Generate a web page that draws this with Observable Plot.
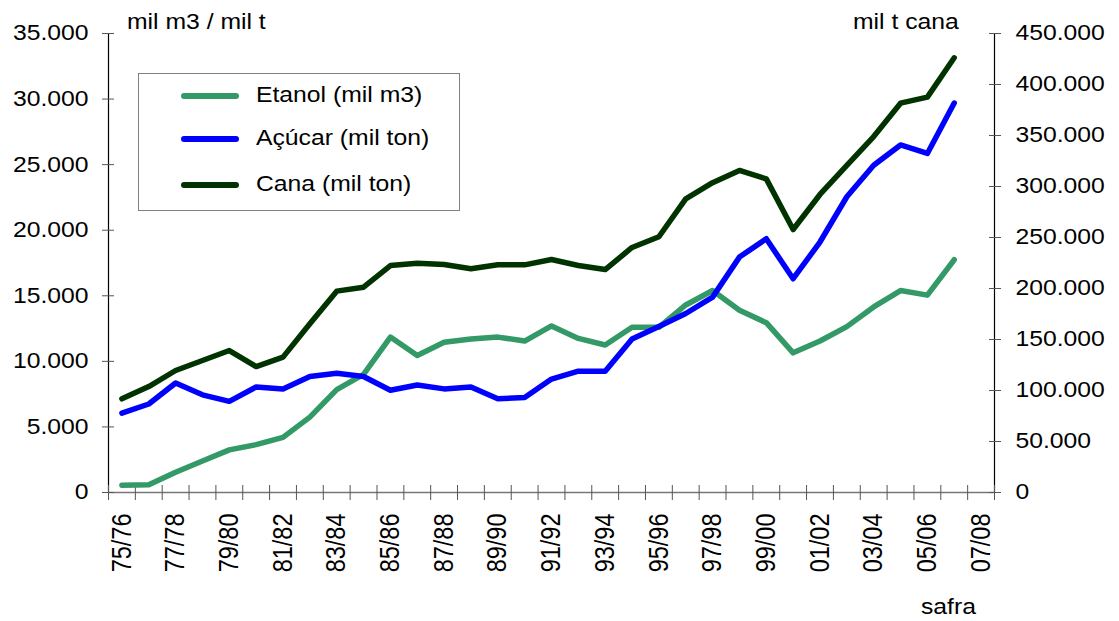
<!DOCTYPE html>
<html>
<head>
<meta charset="utf-8">
<script src="https://cdn.jsdelivr.net/npm/d3@7"></script>
<script src="https://cdn.jsdelivr.net/npm/@observablehq/plot@0.6"></script>
<style>
  html, body { margin: 0; padding: 0; background: #fff; }
  #wrap { position: relative; width: 1119px; height: 621px; font-family: "Liberation Sans", Arial, sans-serif; color: #000; }
  .ov { position: absolute; font-size: 21.5px; line-height: 1; white-space: nowrap; transform: scaleX(1.15); transform-origin: 0 0; }
  #legend { position: absolute; left: 138px; top: 73px; width: 320px; height: 136px; border: 1px solid #808080; background: #fff; }
  .lg-line { position: absolute; left: 42px; width: 58px; height: 6px; border-radius: 3px; }
  .lg-text { position: absolute; left: 117px; font-size: 21.5px; line-height: 1; white-space: nowrap; transform: scaleX(1.15); transform-origin: 0 0; }
</style>
</head>
<body>
<div id="wrap"></div>
<script>
// ---- data ----
const categories = ["75/76","76/77","77/78","78/79","79/80","80/81","81/82","82/83","83/84","84/85",
  "85/86","86/87","87/88","88/89","89/90","90/91","91/92","92/93","93/94","94/95",
  "95/96","96/97","97/98","98/99","99/00","00/01","01/02","02/03","03/04","04/05",
  "05/06","06/07","07/08"];
const etanol = [555, 600, 1550, 2400, 3250, 3650, 4200, 5750, 7850, 9000,
  11850, 10450, 11450, 11700, 11850, 11550, 12700, 11750, 11250, 12600,
  12600, 14300, 15400, 13900, 12950, 10650, 11550, 12650, 14150, 15400,
  15050, 17750];
const acucar = [6050, 6750, 8350, 7450, 6950, 8050, 7900, 8850, 9100, 8850,
  7800, 8200, 7900, 8050, 7150, 7250, 8650, 9250, 9250, 11700,
  12650, 13650, 14900, 17950, 19350, 16300, 19100, 22550, 24950, 26500,
  25850, 29700];
const cana = [91800, 103900, 119600, 129400, 139200, 123500, 132700, 165400, 197400, 201300,
  222500, 224800, 223500, 219300, 223200, 223200, 228400, 222500, 218600, 240200,
  250700, 287900, 303700, 315700, 307500, 257800, 292200, 320600, 349000, 381700,
  387600, 426200];
const leftTicks = [0, 5000, 10000, 15000, 20000, 25000, 30000, 35000];
const rightTicks = [0, 50000, 100000, 150000, 200000, 250000, 300000, 350000, 400000, 450000];
const seriesNames = ["Etanol (mil m3)", "Açúcar (mil ton)", "Cana (mil ton)"];
const seriesColors = ["#339966", "#0000ff", "#003300"];
const leftMax = 35000, rightMax = 450000;

// ---- helpers ----
const loc = d3.formatLocale({decimal: ",", thousands: ".", grouping: [3], currency: ["R$", ""]});
const fmt = loc.format(",d");
const k = leftMax / rightMax;
const rows = (vals, scale = 1) => vals.map((v, i) => ({i, v: v * scale}));
const labelIdx = d3.range(0, categories.length, 2);
const bounds = d3.range(0, categories.length + 1).map(j => j - 0.5);

const chart = Plot.plot({
  width: 1119,
  height: 621,
  marginLeft: 108,
  marginRight: 125,
  marginTop: 33,
  marginBottom: 129,
  x: {type: "linear", domain: [-0.5, categories.length - 0.5]},
  y: {domain: [0, leftMax]},
  style: {fontFamily: "'Liberation Sans', Arial, sans-serif", fontSize: "21.5px", color: "#000", background: "#fff"},
  marks: [
    // axis lines
    Plot.ruleY([0], {stroke: "#777", strokeWidth: 1.5}),
    Plot.ruleX([-0.5], {stroke: "#000", strokeWidth: 1.2}),
    Plot.ruleX([categories.length - 0.5], {stroke: "#000", strokeWidth: 1.2}),
    // x ticks between categories (crossing)
    Plot.axisX(bounds, {tickSize: 15, dy: -7, tickFormat: () => "", stroke: "#555", label: null}),
    // x labels
    Plot.axisX(labelIdx, {tickSize: 0, tickPadding: 21, tickRotate: -90, tickFormat: i => categories[i], fontSize: 23.5, label: null}),
    // left axis
    Plot.axisY(leftTicks, {anchor: "left", tickSize: 12, dx: 6, tickFormat: () => "", stroke: "#555", label: null}),
    Plot.axisY(leftTicks, {anchor: "left", tickSize: 0, tickPadding: 20, tickFormat: fmt, label: null}),
    // right axis
    Plot.axisY(rightTicks.map(v => v * k), {anchor: "right", tickSize: 12, dx: -6, tickFormat: () => "", stroke: "#555", label: null}),
    Plot.axisY(rightTicks.map(v => v * k), {anchor: "right", tickSize: 0, tickPadding: 21, tickFormat: v => fmt(Math.round(v / k)), label: null}),
    // series
    Plot.line(rows(etanol), {x: "i", y: "v", stroke: seriesColors[0], strokeWidth: 5.5, strokeLinejoin: "round", strokeLinecap: "round"}),
    Plot.line(rows(acucar), {x: "i", y: "v", stroke: seriesColors[1], strokeWidth: 5.5, strokeLinejoin: "round", strokeLinecap: "round"}),
    Plot.line(rows(cana, k), {x: "i", y: "v", stroke: seriesColors[2], strokeWidth: 5.5, strokeLinejoin: "round", strokeLinecap: "round"})
  ]
});

// widen glyphs horizontally like the reference rendering
chart.querySelectorAll('g[aria-label$="tick label"] text').forEach(t => {
  const tr = t.getAttribute("transform") || "";
  const s = tr.includes("rotate") ? " scale(1,1.15)" : " scale(1.15,1)";
  if (t.hasAttribute("x")) {
    const x = t.getAttribute("x");
    t.removeAttribute("x");
    t.setAttribute("transform", tr + ` translate(${x},0)` + s);
  } else {
    t.setAttribute("transform", tr + s);
  }
});

const wrap = document.getElementById("wrap");
wrap.appendChild(chart);

// titles
function addText(txt, left, top) {
  const d = document.createElement("div");
  d.className = "ov";
  d.textContent = txt;
  d.style.left = left + "px";
  d.style.top = top + "px";
  wrap.appendChild(d);
  return d;
}
addText("mil m3 / mil t", 127, 12);
addText("mil t cana", 853, 12);
addText("safra", 921, 597);

// legend
const lg = document.createElement("div");
lg.id = "legend";
const ys = [22, 65, 111];
seriesNames.forEach((name, j) => {
  const ln = document.createElement("div");
  ln.className = "lg-line";
  ln.style.top = (ys[j] - 3) + "px";
  ln.style.background = seriesColors[j];
  lg.appendChild(ln);
  const tx = document.createElement("div");
  tx.className = "lg-text";
  tx.style.top = (ys[j] - 11) + "px";
  tx.textContent = name;
  lg.appendChild(tx);
});
wrap.appendChild(lg);
</script>
</body>
</html>
